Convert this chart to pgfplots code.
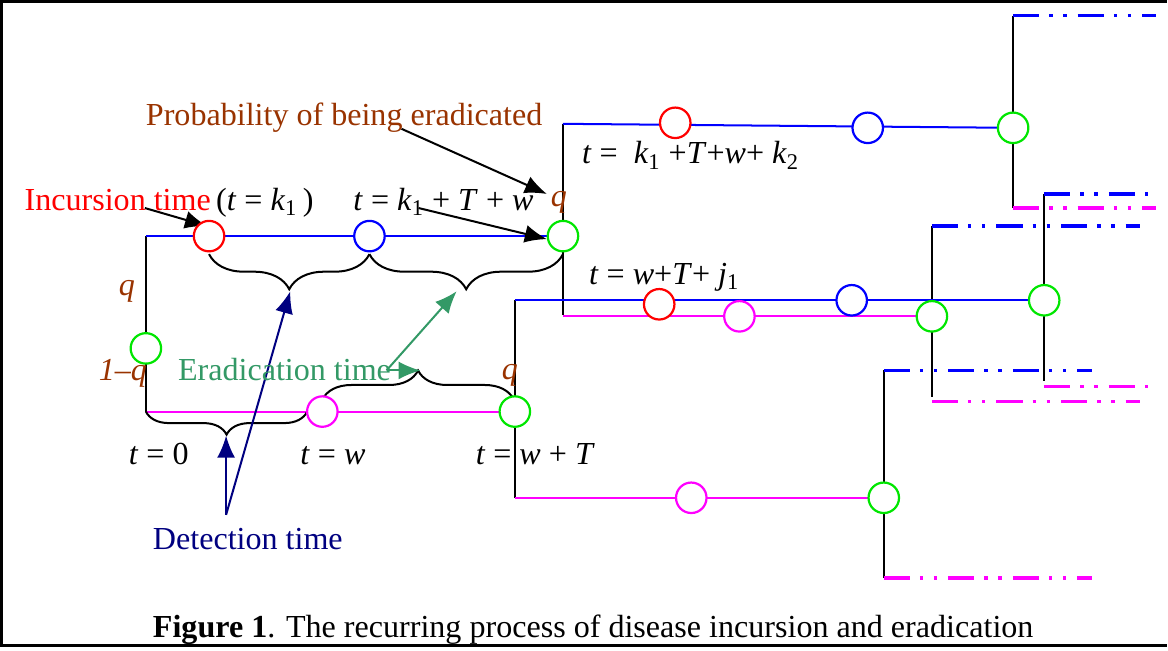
\documentclass[border=0pt]{standalone}
\usepackage{fontspec}
\setmainfont{Liberation Serif}
\usepackage{pgfplots}
\pgfplotsset{compat=1.18}
\usetikzlibrary{arrows.meta,decorations.pathreplacing}
\definecolor{lnblue}{RGB}{0,0,255}
\definecolor{lnmag}{RGB}{255,0,255}
\definecolor{cgreen}{RGB}{0,230,0}
\definecolor{cred}{RGB}{255,0,0}
\definecolor{tbrown}{RGB}{153,51,0}
\definecolor{tgreen}{RGB}{51,153,102}
\definecolor{tnavy}{RGB}{0,0,128}
\newcommand{\tf}{\fontsize{16}{19}\selectfont}
\tikzset{
  ddot/.style={line width=1.8pt, dash pattern=on 13pt off 5pt on 1.7pt off 5.3pt on 1.7pt off 5.5pt},
  arr/.style={-{Latex[length=11pt,width=9pt]}, line width=1pt},
}
\begin{document}
\begin{tikzpicture}
\begin{axis}[
    width=584pt, height=324pt, scale only axis,
    xmin=0, xmax=1168, ymin=0, ymax=648,
    y dir=reverse,
    hide axis, clip=false,
    every axis plot/.append style={line cap=butt},
]
% frame
\addplot[black, line width=1.5pt] coordinates {(1168,3) (6,3) (6,645) (1168,645)};

% black verticals
\addplot[black, line width=1.2pt] coordinates {(150,237) (150,412)};
\addplot[black, line width=1.2pt] coordinates {(566,125) (566,316)};
\addplot[black, line width=1.2pt] coordinates {(518,301) (518,498)};
\addplot[black, line width=1.2pt] coordinates {(1015,17) (1015,209)};
\addplot[black, line width=1.2pt] coordinates {(934,227) (934,397)};
\addplot[black, line width=1.2pt] coordinates {(1046,195) (1046,382)};
\addplot[black, line width=1.2pt] coordinates {(886,371) (886,578)};

% solid blue lines
\addplot[lnblue, line width=1pt] coordinates {(150,237) (566,237)};
\addplot[lnblue, line width=1pt] coordinates {(566,125) (1015,129)};
\addplot[lnblue, line width=1pt] coordinates {(518,301) (1046,301)};
% solid magenta lines
\addplot[lnmag, line width=1pt] coordinates {(150,412) (518,412)};
\addplot[lnmag, line width=1pt] coordinates {(566,317) (934,317)};
\addplot[lnmag, line width=1pt] coordinates {(518,498) (886,498)};

% dash-dot-dot continuations
\addplot[lnblue, ddot] coordinates {(1015,17) (1158,17)};
\addplot[lnblue, ddot] coordinates {(1046,195) (1150,195)};
\addplot[lnblue, ddot] coordinates {(934,227) (1142,227)};
\addplot[lnblue, ddot] coordinates {(886,371) (1094,371)};
\addplot[lnmag, ddot] coordinates {(1015,209) (1158,209)};
\addplot[lnmag, ddot] coordinates {(1046,387) (1150,387)};
\addplot[lnmag, ddot] coordinates {(934,402) (1142,402)};
\addplot[lnmag, ddot] coordinates {(886,578) (1094,578)};

% circles
\addplot[only marks, mark=*, mark size=7.6pt, mark options={draw=cred, fill=white, line width=1.1pt}]
  coordinates {(213,237) (678,124) (662,305)};
\addplot[only marks, mark=*, mark size=7.6pt, mark options={draw=lnblue, fill=white, line width=1.1pt}]
  coordinates {(373,237) (870,129) (854,301)};
\addplot[only marks, mark=*, mark size=7.6pt, mark options={draw=lnmag, fill=white, line width=1.1pt}]
  coordinates {(326,412) (742,317) (694,498)};
\addplot[only marks, mark=*, mark size=7.6pt, mark options={draw=cgreen, fill=white, line width=1.1pt}]
  coordinates {(150,349) (566,237) (518,412) (1015,129) (934,317) (1046,301) (886,498)};

% braces
\addplot[black, line width=1pt, decorate, decoration={brace, mirror, amplitude=17.5pt}]
  coordinates {(213,255) (373,255)};
\addplot[black, line width=1pt, decorate, decoration={brace, mirror, amplitude=17.5pt}]
  coordinates {(373,255) (566,255)};
\addplot[black, line width=1pt, decorate, decoration={brace, mirror, amplitude=11.5pt}]
  coordinates {(150,412) (311,412)};
\addplot[black, line width=1pt, decorate, decoration={brace, amplitude=14.5pt}]
  coordinates {(326,400) (517,400)};

% arrows
\addplot[black, arr] coordinates {(149,209) (211,227)};
\addplot[black, arr] coordinates {(405,130) (550,195)};
\addplot[black, arr] coordinates {(422,209) (550,240)};
\addplot[tgreen, arr] coordinates {(390,371) (460,292)};
\addplot[tgreen, arr] coordinates {(390,371) (424,371)};
\addplot[tnavy, arr] coordinates {(230,515) (230,436)};
\addplot[tnavy, arr] coordinates {(230,515) (294,292)};

% labels
\node[anchor=base west, font=\tf, text=tbrown] at (axis cs:143,127) {Probability of being eradicated};
\node[anchor=base west, font=\tf, text=cred] at (axis cs:22,211) {Incursion time};
\node[anchor=base west, font=\tf] at (axis cs:213,211) {(\textit{t} = \textit{k}\textsubscript{1}\,)};
\node[anchor=base west, font=\tf] at (axis cs:350,211) {\textit{t} = \textit{k}\textsubscript{1} + \textit{T} + \textit{w}};
\node[anchor=base west, font=\tf, text=tbrown] at (axis cs:547,207) {\textit{q}};
\node[anchor=base west, font=\tf] at (axis cs:578,165) {\textit{t} = \ \textit{k}\textsubscript{1} +\textit{T}+\textit{w}+ \textit{k}\textsubscript{2}};
\node[anchor=base west, font=\tf] at (axis cs:585,285) {\textit{t} = \textit{w}+\textit{T}+ \textit{j}\textsubscript{1}};
\node[anchor=base west, font=\tf, text=tbrown] at (axis cs:116,296) {\textit{q}};
\node[anchor=base west, font=\tf, text=tbrown] at (axis cs:96,381) {\textit{1–q}};
\node[anchor=base west, font=\tf, text=tgreen] at (axis cs:175,381) {Eradication time};
\node[anchor=base west, font=\tf, text=tbrown] at (axis cs:498,380) {\textit{q}};
\node[anchor=base west, font=\tf] at (axis cs:126,465) {\textit{t} = 0};
\node[anchor=base west, font=\tf] at (axis cs:297,465) {\textit{t} = \textit{w}};
\node[anchor=base west, font=\tf] at (axis cs:472,465) {\textit{t} = \textit{w} + \textit{T}};
\node[anchor=base west, font=\tf, text=tnavy] at (axis cs:150,550) {Detection time};
\node[anchor=base west, font=\tf] at (axis cs:150,637) {\textbf{Figure 1}. The recurring process of disease incursion and eradication};
\end{axis}
\end{tikzpicture}
\end{document}
